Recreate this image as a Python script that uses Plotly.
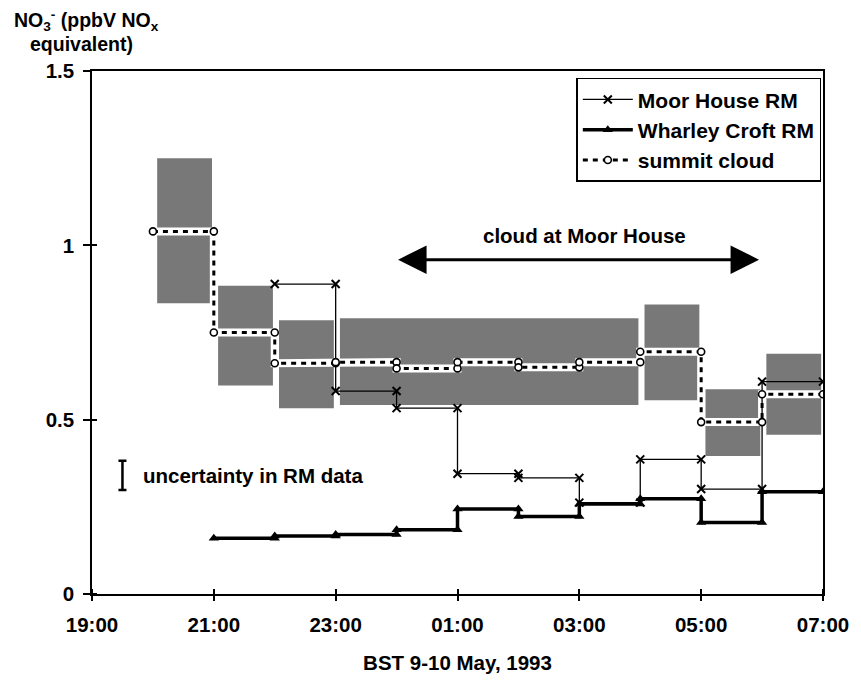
import plotly.graph_objects as go

# x positions are hours after 19:00 (BST, 9 May 1993)
tick_hours = [0, 2, 4, 6, 8, 10, 12]
tick_labels = ["19:00", "21:00", "23:00", "01:00", "03:00", "05:00", "07:00"]
y_ticks = [0, 0.5, 1, 1.5]
y_tick_labels = ["0", "0.5", "1", "1.5"]

# each value holds for one hour starting at the given hour
summit_start = [1, 2, 3, 4, 5, 6, 7, 8, 9, 10, 11]
summit_value = [1.04, 0.75, 0.662, 0.665, 0.647, 0.665, 0.650, 0.665, 0.695, 0.493, 0.573]

moor_start = [3, 4, 5, 6, 7, 8, 9, 10, 11]
moor_value = [0.889, 0.582, 0.533, 0.345, 0.333, 0.262, 0.386, 0.301, 0.609]

wharley_start = [2, 3, 4, 5, 6, 7, 8, 9, 10, 11]
wharley_value = [0.160, 0.166, 0.171, 0.184, 0.244, 0.222, 0.258, 0.273, 0.205, 0.293]

# uncertainty ranges of the summit cloud data (shaded boxes)
box_start = [1, 2, 3, 4, 9, 10, 11]
box_end = [2, 3, 4, 9, 10, 11, 12]
box_low = [0.834, 0.598, 0.533, 0.542, 0.556, 0.396, 0.457]
box_high = [1.25, 0.884, 0.785, 0.791, 0.830, 0.587, 0.689]

# uncertainty bar example for RM data
rm_bar_x = [0.5]
rm_bar_y = [0.34]
rm_bar_half = [0.042]

# cloud at Moor House period
cloud_from = 5.0
cloud_to = 10.95
cloud_level = 0.959


def steps(starts, values, dur=1):
    xs, ys = [], []
    for s, v in zip(starts, values):
        xs += [s, s + dur]
        ys += [v, v]
    return xs, ys


FONT = dict(family="Arial, 'Liberation Sans', sans-serif", size=20.5, color="black", weight="bold")

fig = go.Figure()

# shaded uncertainty boxes
fig.add_trace(go.Bar(
    x=[(s + e) / 2 + 0.02 for s, e in zip(box_start, box_end)],
    width=[e - s - 0.1 for s, e in zip(box_start, box_end)],
    base=box_low,
    y=[h - l for h, l in zip(box_high, box_low)],
    marker=dict(color="#787878", line=dict(width=0)),
    showlegend=False, hoverinfo="skip",
))

sx, sy = steps(summit_start, summit_value)
mx, my = steps(moor_start, moor_value)
wx, wy = steps(wharley_start, wharley_value)

# white halo under the summit cloud line
fig.add_trace(go.Scatter(
    x=sx, y=sy, mode="lines", line=dict(color="white", width=8),
    showlegend=False, hoverinfo="skip",
))

fig.add_trace(go.Scatter(
    x=mx, y=my, mode="lines+markers", name="Moor House RM",
    line=dict(color="black", width=1.3),
    marker=dict(symbol="x-thin", size=8, color="black", line=dict(color="black", width=2)),
))
fig.add_trace(go.Scatter(
    x=wx, y=wy, mode="lines+markers", name="Wharley Croft RM",
    line=dict(color="black", width=3.5),
    marker=dict(symbol="triangle-up", size=9, color="black"),
))
fig.add_trace(go.Scatter(
    x=sx, y=sy, mode="lines+markers", name="summit cloud",
    line=dict(color="black", width=3, dash="5px,5px"),
    marker=dict(symbol="circle", size=7, color="white", line=dict(color="black", width=1.6)),
))

# uncertainty in RM data bar
fig.add_trace(go.Scatter(
    x=rm_bar_x, y=rm_bar_y, mode="markers",
    marker=dict(size=1, color="rgba(0,0,0,0)"),
    error_y=dict(type="data", array=rm_bar_half, color="black", thickness=2.5, width=4),
    showlegend=False, hoverinfo="skip",
))

fig.add_annotation(x=0.8, y=rm_bar_y[0], text="uncertainty in RM data", showarrow=False,
                   xanchor="left", yanchor="middle", font=FONT)

fig.add_annotation(x=8.08, y=1.028, text="cloud at Moor House", showarrow=False,
                   xanchor="center", yanchor="middle", font=FONT)

fig.add_annotation(x=cloud_to, y=cloud_level, ax=cloud_from, ay=cloud_level,
                   xref="x", yref="y", axref="x", ayref="y", text="",
                   showarrow=True, arrowhead=2, startarrowhead=2, arrowside="end+start",
                   arrowwidth=3, arrowsize=1.9, startarrowsize=1.9, arrowcolor="black",
                   standoff=0, startstandoff=0)

# y-axis title
fig.add_annotation(xref="paper", yref="paper", x=(11 - 92) / 740, y=(601.7 - 20) / 530.7,
                   text="NO<sub>3</sub><sup>-</sup> (ppbV NO<sub>x</sub>", showarrow=False,
                   xanchor="left", yanchor="middle", font=dict(FONT, size=19.5))
fig.add_annotation(xref="paper", yref="paper", x=(27 - 92) / 740, y=(601.7 - 44) / 530.7,
                   text="equivalent)", showarrow=False,
                   xanchor="left", yanchor="middle", font=dict(FONT, size=19.5))

fig.update_layout(
    width=861, height=683, autosize=False,
    margin=dict(l=92, r=29, t=71, b=81),
    paper_bgcolor="white", plot_bgcolor="white",
    font=FONT,
    barmode="overlay",
    showlegend=True,
    legend=dict(x=0.9977, xanchor="right", y=0.987, yanchor="top",
                bgcolor="white", bordercolor="black", borderwidth=1.5,
                font=dict(FONT, size=21), itemwidth=50, tracegroupgap=0),
    xaxis=dict(range=[0, 12], tickvals=tick_hours, ticktext=tick_labels,
               showgrid=False, zeroline=False, showline=True, linecolor="black", linewidth=1.5,
               mirror=True, ticks="outside", ticklen=5, tickwidth=1.5, tickcolor="black",
               ticklabelstandoff=7, ticklabeloverflow="allow",
               minor=dict(tickvals=[t + 0.001 for t in tick_hours], ticks="inside", ticklen=5,
                          tickwidth=1.5, tickcolor="black", showgrid=False),
               title=dict(text="BST 9-10 May, 1993", font=FONT, standoff=20)),
    yaxis=dict(range=[0, 1.5], tickvals=y_ticks, ticktext=y_tick_labels,
               showgrid=False, zeroline=False, showline=True, linecolor="black", linewidth=1.5,
               mirror=True, ticks="outside", ticklen=7, tickwidth=1.5, tickcolor="black",
               ticklabelstandoff=5, ticklabeloverflow="allow",
               minor=dict(tickvals=[t + 0.0001 for t in y_ticks[:-1]], ticks="inside", ticklen=5,
                          tickwidth=1.5, tickcolor="black", showgrid=False)),
)

fig.write_html("out.html")
